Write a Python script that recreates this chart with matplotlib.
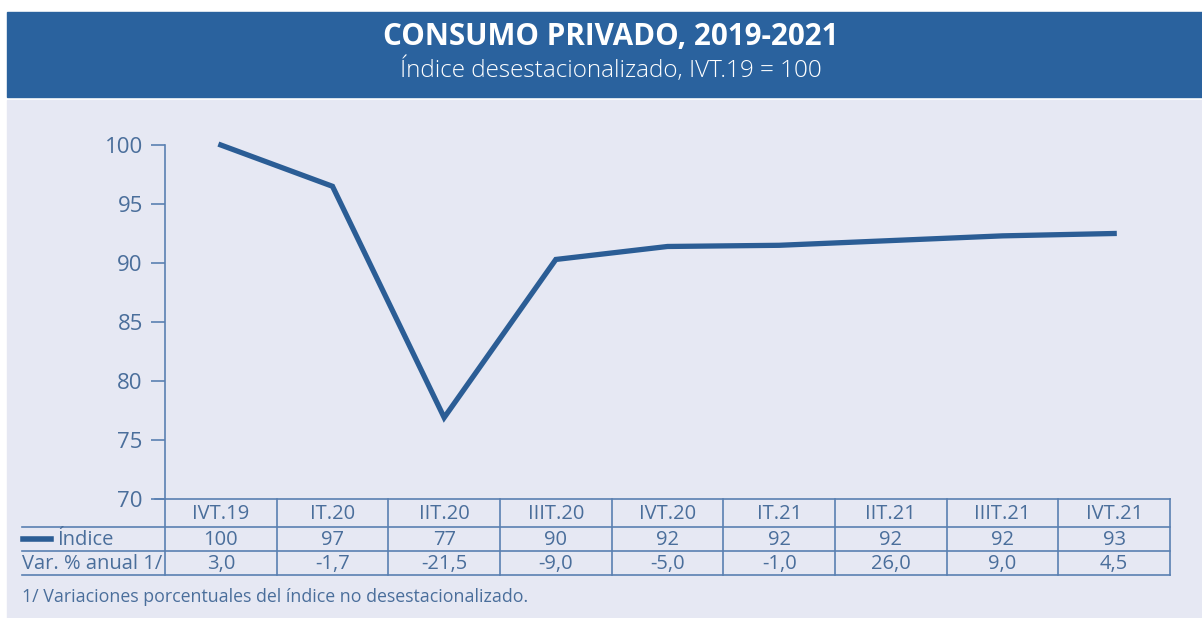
import matplotlib.pyplot as plt
from matplotlib.lines import Line2D
from matplotlib.patches import Rectangle
from matplotlib.transforms import blended_transform_factory

plt.rcParams["font.family"] = ["Open Sans", "DejaVu Sans"]

# Consumo privado, índice desestacionalizado (IVT.19 = 100)
quarters = ["IVT.19", "IT.20", "IIT.20", "IIIT.20", "IVT.20",
            "IT.21", "IIT.21", "IIIT.21", "IVT.21"]
index_values = [100.0, 96.5, 76.9, 90.3, 91.4, 91.5, 91.9, 92.3, 92.5]
index_labels = ["100", "97", "77", "90", "92", "92", "92", "92", "93"]
annual_change = ["3,0", "-1,7", "-21,5", "-9,0", "-5,0", "-1,0", "26,0", "9,0", "4,5"]
y_ticks = [70, 75, 80, 85, 90, 95, 100]

BANNER = "#2a629e"
BACKGROUND = "#e6e8f3"
LINE = "#2b5d95"
TEXT = "#4a6e9b"
GRID = "#5a80b2"

W, H = 1202, 618
fig = plt.figure(figsize=(W / 100, H / 100), dpi=100)
fig.patch.set_facecolor("white")


def fx(px):
    return px / W


def fy(py):
    return 1 - py / H


# overlay in pixel coordinates for banner, panel and table frame
over = fig.add_axes([0, 0, 1, 1])
over.set_xlim(0, W)
over.set_ylim(H, 0)
over.axis("off")
over.add_patch(Rectangle((7, 100), W - 7, H - 100, color=BACKGROUND, zorder=0))
over.add_patch(Rectangle((7, 12), W - 7, 85, color=BANNER, zorder=1))
over.text(611, 37, "CONSUMO PRIVADO, 2019-2021", color="white", fontsize=21.3,
          fontweight="bold", ha="center", va="center")
over.text(611, 70, "Índice desestacionalizado, IVT.19 = 100", color="white",
          fontsize=17.5, fontweight="light", ha="center", va="center")

# main line chart
x_left, x_right = 165, 1170
y_top, y_axis = 145, 499
ax = fig.add_axes([fx(x_left), fy(y_axis), fx(x_right - x_left), (y_axis - y_top) / H])
ax.set_facecolor("none")
ax.set_xlim(-0.5, len(quarters) - 0.5)
ax.set_ylim(70, 100)
ax.plot(range(len(quarters)), index_values, color=LINE, lw=3.8,
        solid_joinstyle="miter", clip_on=False, zorder=3)
for side in ["top", "right", "bottom"]:
    ax.spines[side].set_visible(False)
ax.spines["left"].set_color(GRID)
ax.spines["left"].set_linewidth(1.2)
ax.set_xticks([])
ax.set_yticks(y_ticks)
ax.tick_params(axis="y", colors=GRID, labelcolor=TEXT, labelsize=16,
               length=10, width=1.2, pad=6)

# table below the chart, columns aligned with the chart's x scale
rows = [499, 527, 551, 575]
left_edge = 22
trans = blended_transform_factory(ax.transData, over.transData)
over.add_line(Line2D([155, x_right], [rows[0]] * 2, color=GRID, lw=1.2))
for r in rows[1:]:
    over.add_line(Line2D([left_edge, x_right], [r, r], color=GRID, lw=1.2))
for i in range(len(quarters) + 1):
    over.add_line(Line2D([i - 0.5, i - 0.5], [rows[0], rows[-1]], color=GRID,
                         lw=1.2, transform=trans))

for i, (q, lab, chg) in enumerate(zip(quarters, index_labels, annual_change)):
    for j, s in enumerate([q, lab, chg]):
        over.text(i, (rows[j] + rows[j + 1]) / 2 + 1, s, transform=trans,
                  ha="center", va="center", color=TEXT, fontsize=14.5)

mid_index = (rows[1] + rows[2]) / 2
over.add_line(Line2D([23, 51], [mid_index, mid_index], color=LINE, lw=4))
over.text(57, mid_index + 1, "Índice", color=TEXT, fontsize=14.5, va="center")
over.text(left_edge, (rows[2] + rows[3]) / 2 + 1, "Var. % anual 1/", color=TEXT,
          fontsize=14.5, va="center")
over.text(left_edge, 597, "1/ Variaciones porcentuales del índice no desestacionalizado.",
          color=TEXT, fontsize=12.8, va="center")

fig.savefig("out.png", dpi=100, facecolor=fig.get_facecolor())
